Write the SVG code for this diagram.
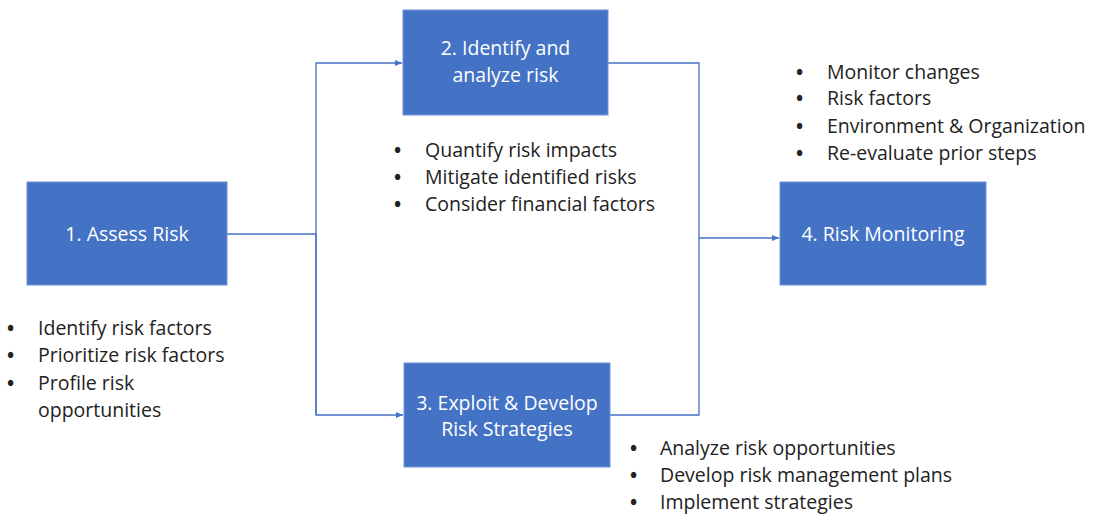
<svg xmlns="http://www.w3.org/2000/svg" width="1096" height="516" viewBox="0 0 1096 516">
<style>
.box{fill:#4472C4;stroke:#6F94D6;stroke-width:1}
.bt{font-family:"Open Sans","Liberation Sans",sans-serif;font-size:19.5px;fill:#FFFFFF;text-anchor:middle}
.lt{font-family:"Open Sans","Liberation Sans",sans-serif;font-size:19.5px;fill:#222222}
.bu{font-family:"Open Sans","Liberation Sans",sans-serif;font-size:19px;font-weight:bold;fill:#222222}
.con{fill:none;stroke:#4472C4;stroke-width:1.3}
</style>
<defs>
<marker id="arr" markerWidth="8" markerHeight="8" refX="7" refY="4" orient="auto" markerUnits="userSpaceOnUse">
<path d="M0,1 L7,4 L0,7 Z" fill="#4472C4"/>
</marker>
</defs>
<rect width="1096" height="516" fill="#FFFFFF"/>
<g id="connectors">
<path class="con" d="M227,234 H316"/>
<path class="con" d="M316,415 V63 H402" marker-end="url(#arr)"/>
<path class="con" d="M316,234 V415 H403" marker-end="url(#arr)"/>
<path class="con" d="M608,63 H699 V415 H610"/>
<path class="con" d="M699,238 H779" marker-end="url(#arr)"/>
</g>
<g id="node1">
<rect class="box" x="27" y="182" width="200" height="103"/>
<text class="bt" x="127" y="241">1. Assess Risk</text>
</g>
<g id="node2">
<rect class="box" x="403" y="10" width="205" height="105"/>
<text class="bt" x="505.5" y="55">2. Identify and</text>
<text class="bt" x="505.5" y="82">analyze risk</text>
</g>
<g id="node3">
<rect class="box" x="404" y="363" width="206" height="104"/>
<text class="bt" x="507" y="410">3. Exploit &amp; Develop</text>
<text class="bt" x="507" y="436">Risk Strategies</text>
</g>
<g id="node4">
<rect class="box" x="780" y="182" width="206" height="103"/>
<text class="bt" x="883" y="241">4. Risk Monitoring</text>
</g>
<g id="list1">
<text class="bu" x="7" y="335">•</text><text class="lt" x="38" y="335">Identify risk factors</text>
<text class="bu" x="7" y="362">•</text><text class="lt" x="38" y="362">Prioritize risk factors</text>
<text class="bu" x="7" y="390">•</text><text class="lt" x="38" y="390">Profile risk</text>
<text class="lt" x="38" y="417">opportunities</text>
</g>
<g id="list2">
<text class="bu" x="394" y="157">•</text><text class="lt" x="425" y="157">Quantify risk impacts</text>
<text class="bu" x="394" y="184">•</text><text class="lt" x="425" y="184">Mitigate identified risks</text>
<text class="bu" x="394" y="211">•</text><text class="lt" x="425" y="211">Consider financial factors</text>
</g>
<g id="list3">
<text class="bu" x="630" y="455">•</text><text class="lt" x="660" y="455">Analyze risk opportunities</text>
<text class="bu" x="630" y="482">•</text><text class="lt" x="660" y="482">Develop risk management plans</text>
<text class="bu" x="630" y="509">•</text><text class="lt" x="660" y="509">Implement strategies</text>
</g>
<g id="list4">
<text class="bu" x="796" y="79">•</text><text class="lt" x="827" y="79">Monitor changes</text>
<text class="bu" x="796" y="105">•</text><text class="lt" x="827" y="105">Risk factors</text>
<text class="bu" x="796" y="133">•</text><text class="lt" x="827" y="133">Environment &amp; Organization</text>
<text class="bu" x="796" y="160">•</text><text class="lt" x="827" y="160">Re-evaluate prior steps</text>
</g>
</svg>
